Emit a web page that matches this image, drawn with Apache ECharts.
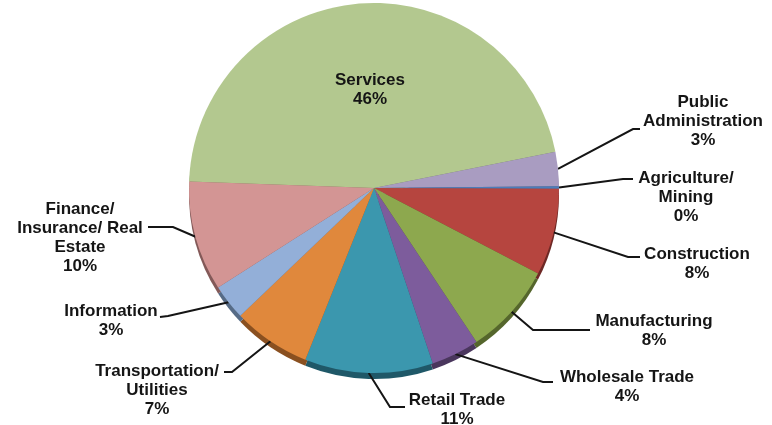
<!DOCTYPE html>
<html><head><meta charset="utf-8">
<script src="https://cdn.jsdelivr.net/npm/echarts@6/dist/echarts.min.js"></script>
<style>html,body{margin:0;padding:0;background:#fff}#c{width:772px;height:425px}</style>
</head><body><div id="c"></div>
<script>
// ---- data ----
const categories = ['Services', 'Public\nAdministration', 'Agriculture/\nMining', 'Construction', 'Manufacturing',
  'Wholesale Trade', 'Retail Trade', 'Transportation/\nUtilities', 'Information', 'Finance/\nInsurance/ Real\nEstate'];
const shares = [46.3, 3.0, 0.2, 7.6, 8.0, 4.2, 11.2, 6.8, 3.1, 9.6];

// ---- styling ----
const colors = ['#B3C88F', '#A99CC1', '#4B7DBA', '#B6453F', '#8DA84E', '#7D5C9C', '#3B97AE', '#E0883C', '#93AFD8', '#D39594'];
const rimColors = ['#6F8052', '#675C78', '#2C4A70', '#6E2825', '#55662C', '#4A365D', '#1F5868', '#8A5020', '#566B86', '#835958'];
// label block: [center x, top y]
const labelPos = [[370, 71], [703, 93], [686, 169], [697, 245], [654, 312], [627, 368], [457, 391], [157, 362], [111, 302], [80, 200]];
// leader line: elbow and end
const leaderElbow = [null, [633, 129], [623, 179], [628, 257], [533, 330], [543, 382], [390, 407], [232, 372], [168, 316], [173, 227]];
const leaderEnd = [null, [640, 129], [633, 179], [640, 257], [590, 330], [553, 382], [405, 407], [224, 372], [160, 317], [148, 227]];

const chart = echarts.init(document.getElementById('c'), null, {renderer: 'canvas'});
const mainData = categories.map((n, i) => ({
  name: n, value: shares[i], itemStyle: {color: colors[i]},
  labelLine: {show: i !== 0}
}));
const rimData = categories.map((n, i) => ({name: n, value: shares[i], itemStyle: {color: rimColors[i]}}));

chart.setOption({
  animation: false,
  backgroundColor: '#ffffff',
  series: [
    {
      type: 'pie', silent: true, z: 1,
      center: [374, 194], radius: 185, startAngle: 178, clockwise: true,
      itemStyle: {borderWidth: 0},
      label: {show: false}, labelLine: {show: false},
      data: rimData
    },
    {
      type: 'pie', z: 2,
      center: [374, 188], radius: 185, startAngle: 178, clockwise: true,
      avoidLabelOverlap: false,
      itemStyle: {borderWidth: 0},
      label: {
        show: true, position: 'outside',
        formatter: p => p.name + '\n' + Math.round(p.percent) + '%',
        fontFamily: 'Liberation Sans, Arial, sans-serif', fontWeight: 'bold', fontSize: 17,
        lineHeight: 19, color: '#151515', align: 'center'
      },
      labelLine: {show: true, lineStyle: {color: '#151515', width: 2}},
      labelLayout: function (params) {
        const i = params.dataIndex;
        const p = labelPos[i];
        const res = {x: p[0], y: p[1], align: 'center', verticalAlign: 'top'};
        const pts = params.labelLinePoints;
        if (pts && leaderElbow[i]) {
          res.labelLinePoints = [pts[0], leaderElbow[i], leaderEnd[i]];
        }
        return res;
      },
      data: mainData
    }
  ]
});
</script>
</body></html>
